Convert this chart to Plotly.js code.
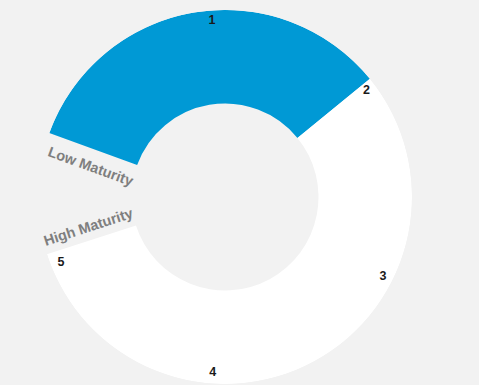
<!DOCTYPE html>
<html>
<head>
<meta charset="utf-8">
<script src="https://cdn.plot.ly/plotly-3.0.1.min.js"></script>
<style>html,body{margin:0;padding:0;background:#f2f2f2;}#chart{width:479px;height:385px;}</style>
</head>
<body>
<div id="chart"></div>
<script>
// Segment sizes (degrees of the ring), drawn clockwise starting at 290°
const segmentNames = ["Low Maturity zone", "High Maturity zone"];
const segmentValues = [120.8, 201.4];
const startAngle = 290;
// Scale labels around the ring and their angles (degrees clockwise from top)
const scaleLabels = ["1", "2", "3", "4", "5"];
const scaleAngles = [-4.2, 53.2, 116.7, 184, 248.2];
const sideLabels = ["Low Maturity", "High Maturity"];

const W = 479, H = 385;
const cx = 225, cy = 197, R = 187;
const dom = {
  x: [(cx - R) / W, (cx + R) / W],
  y: [(H - cy - R) / H, (H - cy + R) / H]
};

// centre angle of each segment from cumulative sizes
const centres = [];
let acc = startAngle;
segmentValues.forEach(v => { centres.push(acc + v / 2); acc += v; });

const ring = {
  type: "barpolar",
  theta: centres,
  width: segmentValues,
  base: segmentValues.map(() => 0.5),
  r: segmentValues.map(() => 0.5),
  text: segmentNames,
  marker: { color: ["#0099d5", "#ffffff"], line: { width: 0 } },
  hoverinfo: "none",
  showlegend: false
};

const nums = {
  type: "scatterpolar",
  mode: "text",
  r: scaleLabels.map(() => 0.945),
  theta: scaleAngles,
  text: scaleLabels,
  textfont: { family: "Liberation Sans, Arial, sans-serif", size: 12.5, color: "#1a1a1a", weight: "bold" },
  hoverinfo: "none",
  showlegend: false
};

const font = { family: "Liberation Sans, Arial, sans-serif", size: 14.5, color: "#7f7f7f" };
const layout = {
  width: W, height: H,
  margin: { l: 0, r: 0, t: 0, b: 0 },
  paper_bgcolor: "#f2f2f2",
  plot_bgcolor: "#f2f2f2",
  polar: {
    domain: dom,
    bgcolor: "rgba(0,0,0,0)",
    bargap: 0,
    radialaxis: { range: [0, 1], visible: false, showgrid: false },
    angularaxis: { visible: false, showgrid: false, direction: "clockwise", rotation: 90 }
  },
  annotations: [
    { text: "<b>" + sideLabels[0] + "</b>", x: 90 / W, y: 1 - 166 / H, xref: "paper", yref: "paper",
      xanchor: "center", yanchor: "middle", showarrow: false, textangle: 20, font: font },
    { text: "<b>" + sideLabels[1] + "</b>", x: 88 / W, y: 1 - 227 / H, xref: "paper", yref: "paper",
      xanchor: "center", yanchor: "middle", showarrow: false, textangle: -18, font: font }
  ]
};

Plotly.newPlot("chart", [ring, nums], layout, { staticPlot: true, displayModeBar: false });
</script>
</body>
</html>
